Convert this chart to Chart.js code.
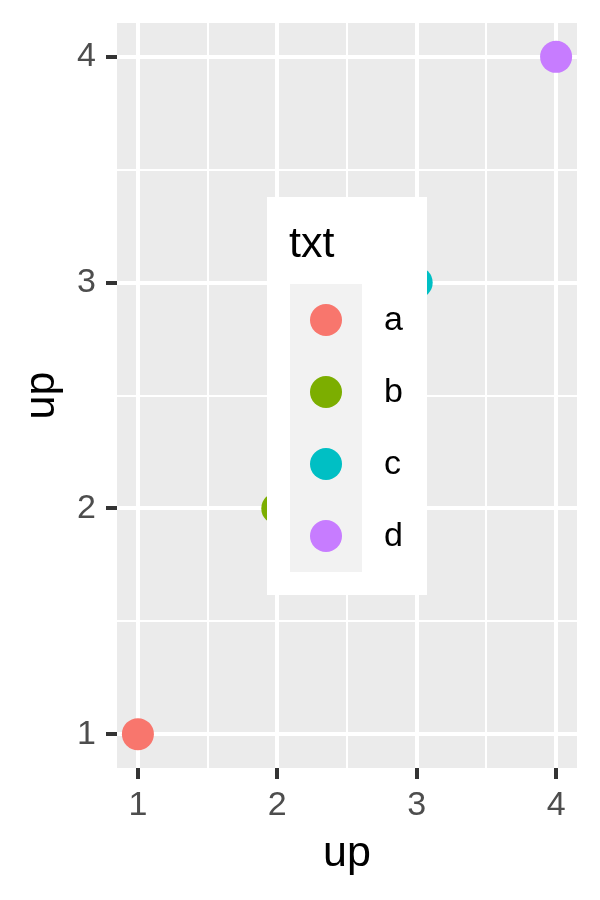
<!DOCTYPE html>
<html>
<head>
<meta charset="utf-8">
<script src="https://cdn.jsdelivr.net/npm/chart.js@4/dist/chart.umd.min.js"></script>
<style>
  html, body { margin: 0; padding: 0; background: #ffffff; }
  #wrap { width: 600px; height: 900px; }
</style>
</head>
<body>
<div id="wrap"><canvas id="c" width="600" height="900"></canvas></div>
<script>
// ---- data ----
const categories = ['a', 'b', 'c', 'd'];
const xValues = [1, 2, 3, 4];
const yValues = [1, 2, 3, 4];
const palette = ['#F8766D', '#7CAE00', '#00BFC4', '#C77CFF'];
const xTicks = [1, 2, 3, 4];
const yTicks = [1, 2, 3, 4];
const xTitle = 'up';
const yTitle = 'up';
const legendTitle = 'txt';

const FONT = '"Liberation Sans", Arial, sans-serif';

function withMinor(ticks) {
  const out = [];
  for (let i = 0; i < ticks.length; i++) {
    out.push(ticks[i]);
    if (i < ticks.length - 1) out.push((ticks[i] + ticks[i + 1]) / 2);
  }
  return out;
}
const isMajor = (v, ticks) => ticks.some(t => Math.abs(t - v) < 1e-9);

const datasets = categories.map((cat, i) => ({
  label: cat,
  data: [{ x: xValues[i], y: yValues[i] }],
  backgroundColor: palette[i],
  borderWidth: 0,
  pointRadius: 16,
  pointHoverRadius: 16,
  clip: false
}));

const panelBg = {
  id: 'panelBg',
  beforeDraw(chart) {
    const { ctx, chartArea: a } = chart;
    ctx.save();
    ctx.fillStyle = '#EBEBEB';
    ctx.fillRect(a.left, a.top, a.right - a.left, a.bottom - a.top);
    ctx.restore();
  }
};

const insideLegend = {
  id: 'insideLegend',
  afterDatasetsDraw(chart) {
    const ctx = chart.ctx;
    ctx.save();
    ctx.fillStyle = '#FFFFFF';
    ctx.fillRect(267, 197, 160, 398);
    ctx.fillStyle = '#000000';
    ctx.font = '43px ' + FONT;
    ctx.textAlign = 'left';
    ctx.textBaseline = 'alphabetic';
    ctx.fillText(legendTitle, 289, 257);
    ctx.fillStyle = '#F2F2F2';
    ctx.fillRect(290, 284, 72, 288);
    ctx.font = '34px ' + FONT;
    ctx.textBaseline = 'middle';
    categories.forEach((cat, i) => {
      const cy = 320 + i * 72;
      ctx.beginPath();
      ctx.arc(326, cy, 16, 0, Math.PI * 2);
      ctx.fillStyle = palette[i];
      ctx.fill();
      ctx.fillStyle = '#000000';
      ctx.fillText(cat, 384, cy + 1);
    });
    ctx.restore();
  }
};

new Chart(document.getElementById('c'), {
  type: 'scatter',
  data: { datasets },
  options: {
    responsive: false,
    animation: false,
    devicePixelRatio: 1,
    layout: { padding: { top: 23, right: 23, left: 0, bottom: 0 } },
    plugins: { legend: { display: false }, tooltip: { enabled: false } },
    scales: {
      x: {
        type: 'linear',
        min: 0.85,
        max: 4.15,
        afterBuildTicks(scale) { scale.ticks = withMinor(xTicks).map(v => ({ value: v })); },
        afterFit(scale) { scale.height = 132; scale.paddingLeft = 0; scale.paddingRight = 0; },
        border: { display: false },
        grid: {
          color: '#FFFFFF',
          lineWidth: ctx => isMajor(ctx.tick.value, xTicks) ? 4 : 2,
          tickColor: ctx => isMajor(ctx.tick.value, xTicks) ? '#333333' : 'rgba(0,0,0,0)',
          tickWidth: 4,
          tickLength: 11,
          drawTicks: true
        },
        ticks: {
          autoSkip: false,
          maxRotation: 0,
          padding: 6,
          color: '#4D4D4D',
          font: { family: FONT, size: 34 },
          callback: v => isMajor(v, xTicks) ? String(v) : ''
        },
        title: {
          display: true,
          text: xTitle,
          color: '#000000',
          font: { family: FONT, size: 43 },
          padding: { top: 0, bottom: 20 }
        }
      },
      y: {
        type: 'linear',
        min: 0.85,
        max: 4.15,
        afterBuildTicks(scale) { scale.ticks = withMinor(yTicks).map(v => ({ value: v })); },
        afterFit(scale) { scale.width = 117; scale.paddingTop = 0; scale.paddingBottom = 0; },
        border: { display: false },
        grid: {
          color: '#FFFFFF',
          lineWidth: ctx => isMajor(ctx.tick.value, yTicks) ? 4 : 2,
          tickColor: ctx => isMajor(ctx.tick.value, yTicks) ? '#333333' : 'rgba(0,0,0,0)',
          tickWidth: 4,
          tickLength: 11,
          drawTicks: true
        },
        ticks: {
          autoSkip: false,
          padding: 10,
          color: '#4D4D4D',
          font: { family: FONT, size: 34 },
          callback: v => isMajor(v, yTicks) ? String(v) : ''
        },
        title: {
          display: true,
          text: yTitle,
          color: '#000000',
          font: { family: FONT, size: 43 },
          padding: { top: 16, bottom: 0 }
        }
      }
    }
  },
  plugins: [panelBg, insideLegend]
});
</script>
</body>
</html>
